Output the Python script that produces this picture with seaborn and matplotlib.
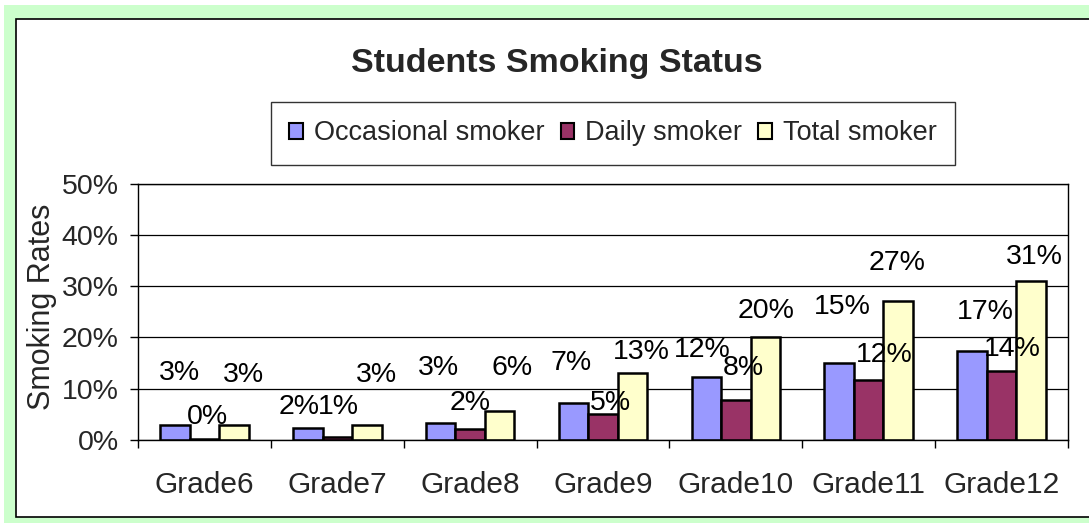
import numpy as np
import pandas as pd
import matplotlib
matplotlib.use("Agg")
import matplotlib.pyplot as plt
import seaborn as sns
from matplotlib.patches import Rectangle, Patch

# ---------------- data ----------------
grades = ["Grade6", "Grade7", "Grade8", "Grade9", "Grade10", "Grade11", "Grade12"]
series = ["Occasional smoker", "Daily smoker", "Total smoker"]
occasional = [2.9, 2.3, 3.4, 7.3, 12.3, 15.1, 17.3]
daily = [0.2, 0.6, 2.2, 5.0, 7.8, 11.7, 13.5]
total = [2.9, 2.9, 5.7, 13.0, 20.1, 27.0, 30.9]
y_ticks = [0, 10, 20, 30, 40, 50]
title = "Students Smoking Status"
y_title = "Smoking Rates"

# ---------------- style ----------------
colors = ["#9999FF", "#993366", "#FFFFCC"]
# data-label offsets in pixels (dx, dy) relative to top-centre of each bar
label_dx = [[5, -9, -2, -2, -4, 3, 13],
            [3, 1, 0, 7, 7, 16, 11],
            [10, 10, 12, 9, 1, -1, 3]]
label_dy = [[52, 21, 55, 40, 27, 56, 39],
            [22, 30, 26, 11, 32, 25, 22],
            [50, 50, 43, 21, 26, 38, 24]]

sns.set_style("white")
plt.rcParams["font.family"] = ["Liberation Sans", "DejaVu Sans"]

W, H = 1089, 523
df = pd.DataFrame({
    "grade": grades * 3,
    "series": np.repeat(series, len(grades)),
    "rate": occasional + daily + total,
})

fig = plt.figure(figsize=(W / 100, H / 100), dpi=100, facecolor="white")

# outer green frame and white chart area
fig.patches.append(Rectangle((4 / W, 0), 1.2, (H - 5) / H, transform=fig.transFigure,
                             facecolor="#CCFFCC", edgecolor="none", zorder=-20))
fig.patches.append(Rectangle((16 / W, 1 - 517 / H), 1.2, (517 - 19) / H,
                             transform=fig.transFigure, facecolor="white",
                             edgecolor="black", linewidth=1.2, zorder=-10))

ax = fig.add_axes([138 / W, 1 - 440 / H, 930 / W, 256.5 / H])
ax.set_facecolor("white")

sns.barplot(data=df, x="grade", y="rate", hue="series", order=grades,
            hue_order=series, palette=colors, saturation=1, width=2 / 3,
            edgecolor="black", linewidth=1.8, errorbar=None, legend=False, ax=ax)

ax.set_xlim(-0.5, len(grades) - 0.5)
ax.set_ylim(y_ticks[0], y_ticks[-1])
ax.set_yticks(y_ticks)
ax.set_yticklabels([f"{t}%" for t in y_ticks])
ax.yaxis.grid(True, color="black", linewidth=0.9)
ax.xaxis.grid(False)
ax.set_axisbelow(True)
for s in ax.spines.values():
    s.set_visible(True)
    s.set_color("black")
    s.set_linewidth(1.0)

ax.set_xlabel("")
ax.set_ylabel("")
ax.tick_params(axis="y", which="major", direction="out", length=6, width=1,
               color="black", labelsize=20.5, pad=8, left=True)
ax.set_xticks(np.arange(-0.5, len(grades), 1), minor=True)
ax.tick_params(axis="x", which="minor", direction="out", length=6, width=1,
               color="black", bottom=True)
ax.tick_params(axis="x", which="major", length=0, labelsize=21.5, pad=22)

# data labels
for i, cont in enumerate(ax.containers):
    for bar in cont:
        xc = bar.get_x() + bar.get_width() / 2
        h = bar.get_height()
        j = int(round(xc))
        ax.annotate(f"{h:.0f}%", (xc, h), xytext=(label_dx[i][j], label_dy[i][j]),
                    textcoords="offset pixels", ha="center", va="center",
                    fontsize=20.5, color="black")

fig.text(557 / W, 1 - 72 / H, title, ha="center", va="baseline",
         fontsize=24.5, fontweight="bold")
fig.text(42 / W, 1 - 306.5 / H, y_title, rotation=90, ha="center", va="center",
         fontsize=22)

handles = [Patch(facecolor=c, edgecolor="black", linewidth=1.5) for c in colors]
leg = fig.legend(handles, series, loc="upper left",
                 bbox_to_anchor=(271 / W, 1 - 102 / H), ncol=3, frameon=True,
                 fancybox=False, edgecolor="black", fontsize=19.5,
                 handlelength=0.5, handleheight=0.5, handletextpad=0.4,
                 columnspacing=0.6, borderpad=0.68, borderaxespad=0)
leg.get_frame().set_linewidth(1.0)

fig.savefig("out.png", dpi=100, facecolor="white")
